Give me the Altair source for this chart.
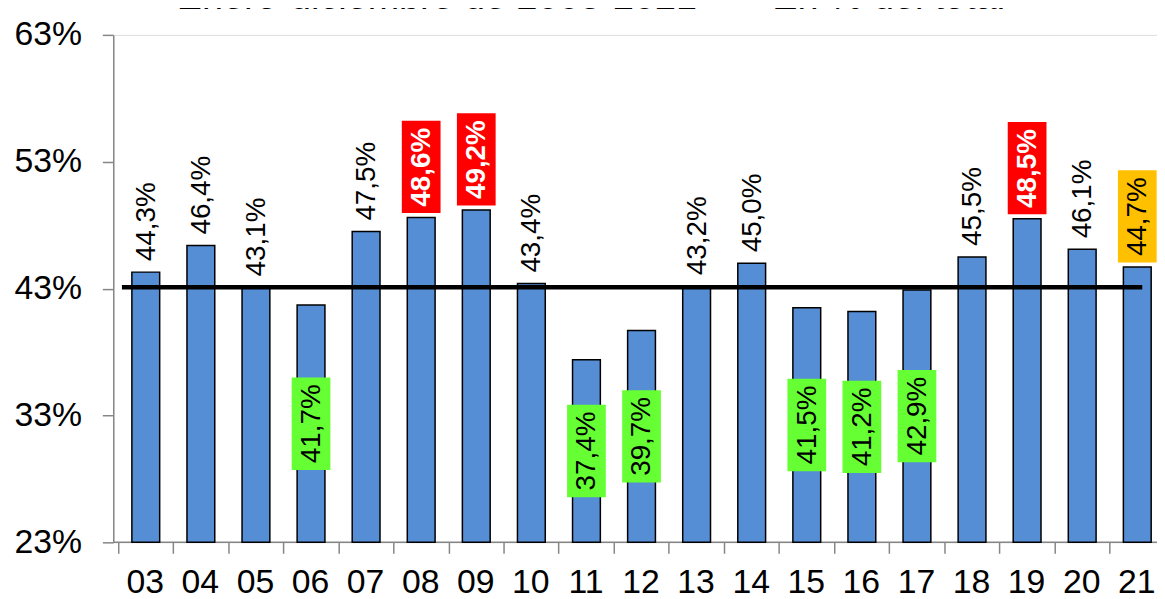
import json
import altair as alt
import pandas as pd

years = ["03", "04", "05", "06", "07", "08", "09", "10", "11", "12",
         "13", "14", "15", "16", "17", "18", "19", "20", "21"]
values = [44.3, 46.4, 43.1, 41.7, 47.5, 48.6, 49.2, 43.4, 37.4, 39.7,
          43.2, 45.0, 41.5, 41.2, 42.9, 45.5, 48.5, 46.1, 44.7]
kinds = ["plain", "plain", "plain", "low", "plain", "high", "high", "plain", "low", "low",
         "plain", "plain", "low", "low", "low", "plain", "high", "plain", "last"]
average = 43.1
y_ticks = [23, 33, 43, 53, 63]
y_min, y_max = 23, 63
title_text = "Enero-diciembre de 2003-2021\u00a0\u00a0\u00a0\u00a0\u00a0- En % del total"

FONT = "Liberation Sans"
BAR_BLUE = "#558ED5"
AXIS_GREY = "#868686"

n = len(years)
STEP = 56          # pixels per category
PLOT_W = 1051      # the last category is cut by the right edge, as in the reference
x_dom = [-0.5, -0.5 + PLOT_W / STEP]

df = pd.DataFrame({
    "idx": list(range(n)),
    "year": years,
    "value": values,
    "kind": kinds,
    "label": [f"{v:.1f}".replace(".", ",") + "%" for v in values],
})

x_enc = alt.X(
    "idx:Q",
    scale=alt.Scale(domain=x_dom, nice=False, zero=False),
    axis=alt.Axis(title=None, values=list(range(n)),
                  labelExpr=f"{json.dumps(years)}[datum.value]",
                  labelAngle=0, labelFontSize=34, labelFont=FONT, labelColor="black",
                  tickSize=11, tickOffset=-STEP / 2, labelOffset=STEP / 2 - 1,
                  tickColor=AXIS_GREY, domain=False, grid=False,
                  labelPadding=13, tickWidth=1.5, labelFlush=False, labelOverlap=False),
)
y_enc = alt.Y(
    "value:Q",
    scale=alt.Scale(domain=[y_min, y_max], nice=False, zero=False),
    axis=alt.Axis(title=None, values=y_ticks, labelExpr="datum.value + '%'",
                  labelFontSize=34, labelFont=FONT, labelColor="black",
                  tickSize=11, tickColor=AXIS_GREY, domainColor=AXIS_GREY,
                  labelPadding=21, grid=False, domainWidth=1.5, tickWidth=1.5),
)

base = alt.Chart(df)
xs = alt.X("idx:Q")

# horizontal axis line along the bottom of the plot
axis_df = pd.DataFrame({"base": [y_min]})
x_domain = alt.Chart(axis_df).mark_rule(color=AXIS_GREY, strokeWidth=1.5).encode(
    y=alt.Y("base:Q")
)

bars = base.mark_bar(size=28, color=BAR_BLUE, stroke="black", strokeWidth=1.5).encode(
    x=x_enc, y=y_enc, y2=alt.Y2Datum(y_min)
)

rule_df = pd.DataFrame({"start": [0], "end": [n - 1], "avg": [average]})
rule = alt.Chart(rule_df).mark_rule(
    color="black", strokeWidth=4.5, xOffset=-24, x2Offset=5
).encode(x=alt.X("start:Q"), x2=alt.X2("end:Q"), y=alt.Y("avg:Q"))

# plain labels above bars
plain_text = base.transform_filter(alt.datum.kind == "plain").mark_text(
    angle=270, align="left", baseline="middle", dx=11, dy=1,
    fontSize=28, font=FONT, color="black"
).encode(x=xs, y="value:Q", text="label:N")

# boxes above bars (high / last)
box_high = base.transform_filter(alt.datum.kind == "high").mark_bar(
    size=39, color="#FF0000", yOffset=-4.5, y2Offset=-97.5
).encode(x=xs, y="value:Q", y2="value:Q")
box_last = base.transform_filter(alt.datum.kind == "last").mark_bar(
    size=39, color="#FFC000", yOffset=-4.5, y2Offset=-97.5, clip=True
).encode(x=xs, y="value:Q", y2="value:Q")

high_text = base.transform_filter(alt.datum.kind == "high").mark_text(
    angle=270, align="left", baseline="middle", dx=11, dy=1,
    fontSize=28, font=FONT, fontWeight="bold", color="white"
).encode(x=xs, y="value:Q", text="label:N")
last_text = base.transform_filter(alt.datum.kind == "last").mark_text(
    angle=270, align="left", baseline="middle", dx=11, dy=1,
    fontSize=28, font=FONT, color="black"
).encode(x=xs, y="value:Q", text="label:N")

# low labels centered in bars
low = base.transform_filter(alt.datum.kind == "low").transform_calculate(
    mid=f"(datum.value + {y_min}) / 2"
)
box_low = low.mark_bar(size=39, color="#66FF33", yOffset=46.5, y2Offset=-46.5).encode(
    x=xs, y="mid:Q", y2="mid:Q"
)
low_text = low.mark_text(
    angle=270, align="center", baseline="middle", dy=1,
    fontSize=28, font=FONT, color="black"
).encode(x=xs, y="mid:Q", text="label:N")

title_df = pd.DataFrame({"t": [title_text]})
title = alt.Chart(title_df).mark_text(
    fontSize=38, font=FONT, color="black", align="center", baseline="alphabetic"
).encode(x=alt.value(481), y=alt.value(-26), text="t:N")

chart = alt.layer(
    x_domain, bars, rule, plain_text, box_high, box_last, high_text, last_text,
    box_low, low_text, title
).properties(
    width=PLOT_W, height=511,
    autosize=alt.AutoSizeParams(type="none"),
    padding={"left": 106, "top": 25, "right": 0, "bottom": 58},
).configure_view(stroke=None).configure(font=FONT)

chart.save("out.html", embed_options={"renderer": "svg", "actions": False})
